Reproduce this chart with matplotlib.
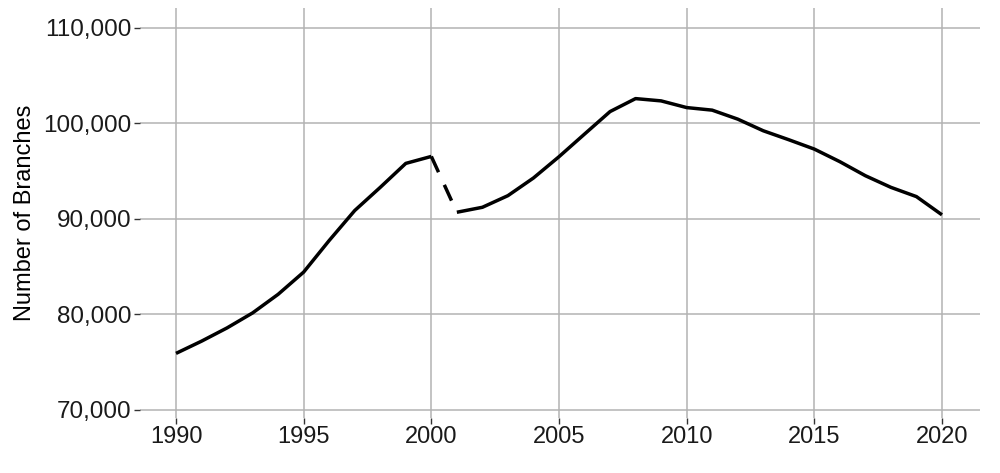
import matplotlib
matplotlib.use("Agg")
import matplotlib.pyplot as plt
from matplotlib.ticker import FuncFormatter

years_a = [1990, 1991, 1992, 1993, 1994, 1995, 1996, 1997, 1998, 1999, 2000]
branches_a = [75900, 77180, 78570, 80140, 82090, 84420, 87730, 90870, 93300, 95810, 96540]
years_gap = [2000, 2001]
branches_gap = [96540, 90690]
years_b = [2001, 2002, 2003, 2004, 2005, 2006, 2007, 2008, 2009, 2010,
           2011, 2012, 2013, 2014, 2015, 2016, 2017, 2018, 2019, 2020]
branches_b = [90690, 91210, 92430, 94280, 96510, 98880, 101240, 102600, 102360, 101660,
              101390, 100450, 99230, 98290, 97310, 95990, 94520, 93300, 92330, 90420]
x_ticks = [1990, 1995, 2000, 2005, 2010, 2015, 2020]
y_ticks = [70000, 80000, 90000, 100000, 110000]
y_label = "Number of Branches"

plt.rcParams['font.family'] = ['Liberation Sans', 'DejaVu Sans']

fig = plt.figure(figsize=(10, 4.73), dpi=100)
ax = fig.add_axes([0.14, 0.1163, 0.84, 0.8667])

ax.plot(years_a, branches_a, color='black', lw=2.5, solid_capstyle='butt', solid_joinstyle='round')
ax.plot(years_gap, branches_gap, color='black', lw=2.5, dashes=(5.0, 4.0), dash_capstyle='butt')
ax.plot(years_b, branches_b, color='black', lw=2.5, solid_capstyle='butt', solid_joinstyle='round')

ax.set_xlim(1988.59, 2021.49)
ax.set_ylim(69130, 112090)
ax.set_xticks(x_ticks)
ax.set_yticks(y_ticks)
ax.yaxis.set_major_formatter(FuncFormatter(lambda v, p: f"{int(v):,}"))

ax.grid(True, color='#b3b3b3', linewidth=1.1)
ax.set_axisbelow(True)
for s in ax.spines.values():
    s.set_visible(False)
ax.tick_params(axis='y', length=4, width=1.0, color='#333333',
               labelsize=17.5, labelcolor='#1a1a1a', pad=2)
ax.tick_params(axis='x', length=4, width=1.0, color='#333333',
               labelsize=17, labelcolor='#1a1a1a', pad=2)
ax.set_ylabel(y_label, fontsize=17, color='black', labelpad=5)

fig.savefig("out.png", dpi=100, facecolor='white')
